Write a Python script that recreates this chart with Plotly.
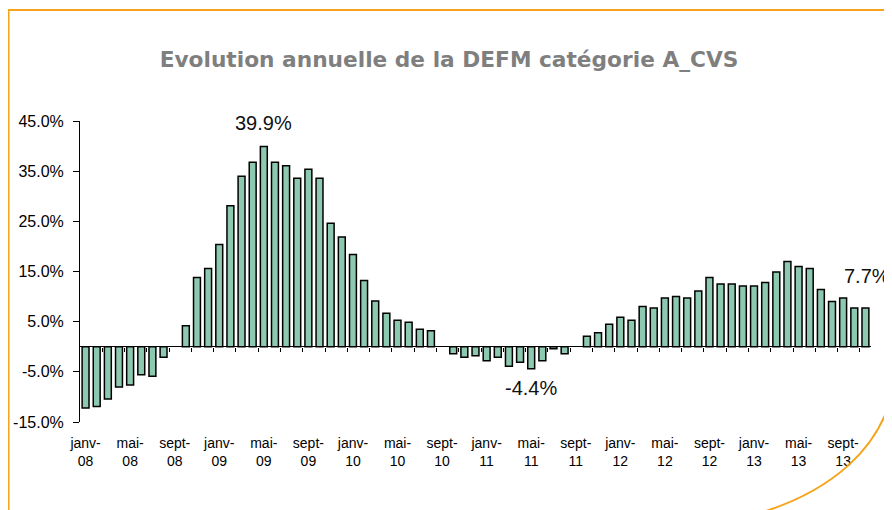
import plotly.graph_objects as go

# ---- data ----
months = ["janv", "févr", "mars", "avr", "mai", "juin", "juil", "août", "sept", "oct", "nov", "déc"]
years = ["08", "09", "10", "11", "12", "13"]
categories = [f"{m}-{y}" for y in years for m in months][:71]   # janv-08 .. nov-13

values = [
    -12.2, -11.9, -10.4, -8.0, -7.6, -5.6, -5.9, -2.1, None, 4.2, 13.8, 15.6,      # 2008
    20.4, 28.1, 34.0, 36.8, 39.9, 36.8, 36.1, 33.6, 35.4, 33.6, 24.6, 21.9,        # 2009
    18.4, 13.2, 9.1, 6.7, 5.3, 4.9, 3.5, 3.2, None, -1.4, -2.1, -1.8,              # 2010
    -2.8, -2.1, -3.9, -3.1, -4.4, -2.8, -0.4, -1.4, None, 2.1, 2.8, 4.5,           # 2011
    5.9, 5.3, 8.0, 7.7, 9.7, 10.0, 9.7, 11.1, 13.8, 12.5, 12.5, 12.1,              # 2012
    12.1, 12.8, 14.9, 17.0, 16.0, 15.6, 11.4, 9.0, 9.7, 7.7, 7.7,                  # 2013
]

y_ticks = [-15, -5, 5, 15, 25, 35, 45]
tick_labels = ["janv-08", "mai-08", "sept-08", "janv-09", "mai-09", "sept-09",
               "janv-10", "mai-10", "sept-10", "janv-11", "mai-11", "sept-11",
               "janv-12", "mai-12", "sept-12", "janv-13", "mai-13", "sept-13"]
labelled = ["mai-09", "mai-11", "nov-13"]   # bars carrying a value label

title = "Evolution annuelle de la DEFM catégorie A_CVS"

# ---- geometry (page offset of 8px from the body margin) ----
OFF = 8
W, H = 892 - OFF, 510 - OFF
PL, PR, PT, PB = 80, 871, 121, 422          # plot area in page pixels
ML, MR, MT, MB = PL - OFF, W - (PR - OFF), PT - OFF, H - (PB - OFF)
PW, PH = W - ML - MR, H - MT - MB

def px(x):   # page x -> paper
    return (x - OFF - ML) / PW

def py(y):   # page y -> paper
    return (H - MB - (y - OFF)) / PH

xs = list(range(len(values)))
y_min, y_max = -15, 45

fig = go.Figure()
fig.add_trace(go.Bar(
    x=xs, y=values, width=0.62,
    marker=dict(color="#8DC8B1", line=dict(color="#000000", width=1.5)),
    hoverinfo="skip",
))
# empty trace to register overlay axis used for the zero-line ticks
fig.add_trace(go.Scatter(x=[], y=[], xaxis="x2", yaxis="y", showlegend=False))

tick_pos = [categories.index(t) for t in tick_labels]
tick_txt = [t.replace("-", "-<br>") for t in tick_labels]

fig.update_layout(
    width=W, height=H,
    margin=dict(l=ML, r=MR, t=MT, b=MB, pad=0, autoexpand=False),
    paper_bgcolor="white", plot_bgcolor="white",
    showlegend=False,
    title=dict(text=f"<b>{title}</b>", x=(449 - OFF) / W, xanchor="center",
               y=1 - (59 - OFF) / H, yanchor="middle", yref="container", xref="container",
               font=dict(family="DejaVu Sans", size=21.7, color="#7F7F7F")),
    xaxis=dict(range=[-0.5, len(values) - 0.5], tickmode="array", automargin=False,
               tickvals=tick_pos, ticktext=tick_txt, ticks="",
               showline=False, showgrid=False, zeroline=False,
               tickfont=dict(family="Liberation Sans", size=14, color="#000000"),
               ticklabelstandoff=11),
    xaxis2=dict(overlaying="x", anchor="free", position=(0 - y_min) / (y_max - y_min),
                side="bottom", range=[-0.5, len(values) - 0.5], tickmode="array",
                automargin=False,
                tickvals=[i + 0.5 for i in range(1, len(values) - 1, 2)],
                ticks="outside", ticklen=4, tickwidth=1, tickcolor="#000000",
                showticklabels=False, showline=False, showgrid=False, zeroline=False),
    yaxis=dict(range=[y_min, y_max], tickmode="array", tickvals=y_ticks, automargin=False,
               ticktext=[f"{v:.1f}%" for v in y_ticks],
               ticks="outside", ticklen=6, tickwidth=1, tickcolor="#000000",
               showline=True, linecolor="#000000", linewidth=1,
               showgrid=False, zeroline=True, zerolinecolor="#000000", zerolinewidth=1,
               tickfont=dict(family="Liberation Sans", size=16, color="#000000"),
               ticklabelstandoff=6),
)

# value labels
lab_font = dict(family="Liberation Sans", size=20, color="#111111")
shifts = {"mai-09": (0, 24), "mai-11": (0, -19), "nov-13": (2, 32)}
for c in labelled:
    i = categories.index(c)
    v = values[i]
    dx, dy = shifts[c]
    fig.add_annotation(x=i, y=v, text=f"{v:.1f}%", showarrow=False,
                       xshift=dx, yshift=dy, font=lab_font)

# decorative orange frame
orange = "#F5A31A"
fig.add_shape(type="line", xref="paper", yref="paper",
              x0=px(8), y0=py(10), x1=px(893), y1=py(10),
              line=dict(color=orange, width=2))
fig.add_shape(type="line", xref="paper", yref="paper",
              x0=px(8.5), y0=py(10), x1=px(8.5), y1=py(512),
              line=dict(color=orange, width=2))
fig.add_shape(type="path", xref="paper", yref="paper",
              path=(f"M {px(766)},{py(511)} C {px(830)},{py(490)} "
                    f"{px(880)},{py(450)} {px(893)},{py(390)}"),
              line=dict(color=orange, width=2))

fig.write_html("out.html")
